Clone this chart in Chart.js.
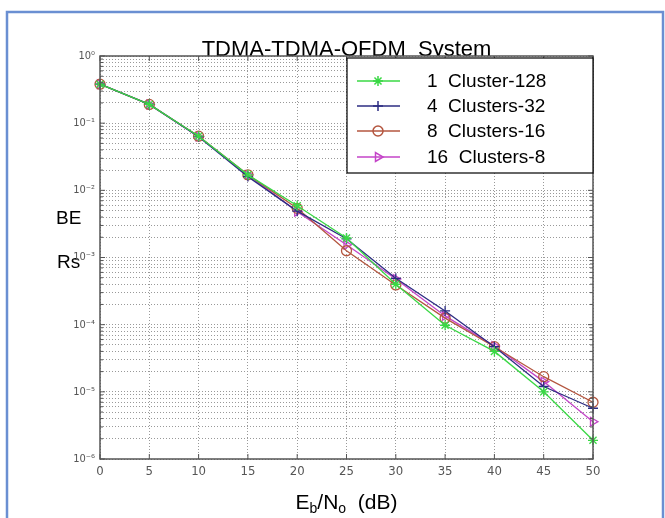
<!DOCTYPE html>
<html>
<head>
<meta charset="utf-8">
<script src="https://cdn.jsdelivr.net/npm/chart.js@4"></script>
<style>
  html, body { margin: 0; padding: 0; background: #fff; }
  canvas { display: block; }
</style>
</head>
<body>
<canvas id="myChart" width="665" height="518"></canvas>
<script>
// Eb/No in dB
const ebno = [0, 5, 10, 15, 20, 25, 30, 35, 40, 45, 50];

// bit error rate per configuration
const cluster1x128 = [0.38, 0.19, 0.064, 0.017, 0.0059, 0.00195, 0.00040, 0.000098, 0.000040, 0.0000100, 0.0000019];
const clusters4x32 = [0.38, 0.19, 0.063, 0.016, 0.0049, 0.00190, 0.00049, 0.000160, 0.000047, 0.0000120, 0.0000057];
const clusters8x16 = [0.38, 0.19, 0.064, 0.017, 0.0054, 0.00126, 0.00039, 0.000125, 0.000047, 0.0000168, 0.0000070];
const clusters16x8 = [0.38, 0.19, 0.063, 0.017, 0.0048, 0.00155, 0.00048, 0.000135, 0.000048, 0.0000142, 0.0000036];

const seriesNames = ['1  Cluster-128', '4  Clusters-32', '8  Clusters-16', '16  Clusters-8'];

const yExponents = [-6, -5, -4, -3, -2, -1, 0];
const yTickLabels = ['10⁻⁶', '10⁻⁵', '10⁻⁴', '10⁻³', '10⁻²', '10⁻¹', '10⁰'];

const titleText = 'TDMA-TDMA-OFDM  System';

const font = 'Arial, "Liberation Sans", sans-serif';
const narrow = '"Liberation Sans Narrow", "DejaVu Sans Condensed", Arial, sans-serif';

function pts(ys) {
  return ebno.map((x, i) => ({ x: x, y: ys[i] }));
}

const series = [
  { label: seriesNames[0], data: pts(cluster1x128), color: '#3ad845', style: 'star', rot: 0 },
  { label: seriesNames[1], data: pts(clusters4x32), color: '#2c2c82', style: 'cross', rot: 0 },
  { label: seriesNames[2], data: pts(clusters8x16), color: '#b4563f', style: 'circle', rot: 0 },
  { label: seriesNames[3], data: pts(clusters16x8), color: '#c444c8', style: 'triangle', rot: 90 }
];

const decorPlugin = {
  id: 'decor',
  beforeDraw(chart) {
    const c = chart.ctx, a = chart.chartArea;
    c.save();
    c.fillStyle = '#fff';
    c.fillRect(0, 0, chart.width, chart.height);
    // outer frame
    c.strokeStyle = '#6a8fd2';
    c.lineWidth = 2.5;
    c.strokeRect(7, 12, 656, 530);
    // title (bottom gets covered by the axes like in matlab)
    c.fillStyle = '#000';
    c.font = '22px ' + font;
    c.textAlign = 'center';
    c.textBaseline = 'alphabetic';
    c.fillText(titleText, (a.left + a.right) / 2, 56);
    c.fillStyle = '#fff';
    c.fillRect(a.left, a.top, a.right - a.left, a.bottom - a.top);
    // y axis label, split in two lines
    c.fillStyle = '#000';
    c.font = '19px ' + font;
    c.textAlign = 'left';
    c.fillText('BE', 56, 224);
    c.fillText('Rs', 57, 268);
    // x axis label with subscripts
    const parts = [['E', 21, 0], ['b', 14, 4], ['/N', 21, 0], ['o', 14, 4], ['  (dB)', 21, 0]];
    let w = 0;
    parts.forEach(p => { c.font = p[1] + 'px ' + font; w += c.measureText(p[0]).width; });
    let x = (a.left + a.right) / 2 - w / 2;
    parts.forEach(p => {
      c.font = p[1] + 'px ' + font;
      c.fillText(p[0], x, 509 + p[2]);
      x += c.measureText(p[0]).width;
    });
    c.restore();
  },
  afterDraw(chart) {
    const c = chart.ctx, a = chart.chartArea;
    const xs = chart.scales.x, ys = chart.scales.y;
    c.save();
    // axes box and inner tick marks
    c.strokeStyle = '#555';
    c.lineWidth = 1.5;
    c.strokeRect(a.left, a.top, a.right - a.left, a.bottom - a.top);
    c.lineWidth = 1;
    c.beginPath();
    xs.ticks.forEach(t => {
      const px = xs.getPixelForValue(t.value);
      c.moveTo(px, a.bottom); c.lineTo(px, a.bottom - 5);
      c.moveTo(px, a.top); c.lineTo(px, a.top + 5);
    });
    ys.ticks.forEach(t => {
      const py = ys.getPixelForValue(t.value);
      const len = t.label ? 5 : 3;
      c.moveTo(a.left, py); c.lineTo(a.left + len, py);
      c.moveTo(a.right, py); c.lineTo(a.right - len, py);
    });
    c.stroke();

    // legend box
    const lx = 347, ly = 58, lw = 246, lh = 115;
    c.fillStyle = '#fff';
    c.fillRect(lx, ly, lw, lh);
    c.strokeStyle = '#000';
    c.lineWidth = 1.2;
    c.strokeRect(lx, ly, lw, lh);
    const rows = [81, 106, 131, 157];
    chart.data.datasets.forEach((ds, i) => {
      const y = rows[i];
      c.strokeStyle = ds.borderColor;
      c.lineWidth = 1.5;
      c.beginPath();
      c.moveTo(357, y); c.lineTo(400, y);
      c.stroke();
      c.fillStyle = 'rgba(0,0,0,0)';
      if (Chart.helpers && Chart.helpers.drawPoint) {
        Chart.helpers.drawPoint(c, { pointStyle: ds.pointStyle, radius: 5, rotation: ds.pointRotation, borderWidth: 1.3 }, 378, y);
      }
      c.fillStyle = '#000';
      c.font = '19px ' + font;
      c.textAlign = 'left';
      c.textBaseline = 'middle';
      c.fillText(ds.label, 427, y + 1);
    });
    c.restore();
  }
};

const ctx = document.getElementById('myChart');

new Chart(ctx, {
  type: 'line',
  data: {
    datasets: series.map(s => ({
      label: s.label,
      data: s.data,
      borderColor: s.color,
      backgroundColor: s.color,
      borderWidth: 1.3,
      pointStyle: s.style,
      pointRotation: s.rot,
      pointRadius: 5,
      pointBorderWidth: 1.3,
      pointBorderColor: s.color,
      pointBackgroundColor: 'rgba(0,0,0,0)',
      tension: 0,
      clip: false
    }))
  },
  options: {
    responsive: false,
    devicePixelRatio: 1,
    animation: false,
    layout: { padding: { left: 0, top: 56, right: 72, bottom: 0 } },
    scales: {
      x: {
        type: 'linear',
        min: 0,
        max: 50,
        afterFit(scale) { scale.height = 59; },
        ticks: { stepSize: 5, padding: 5, color: '#555', font: { family: narrow, size: 13 } },
        grid: { color: '#999', lineWidth: 1, drawTicks: false },
        border: { display: false, dash: [1, 2] }
      },
      y: {
        type: 'logarithmic',
        min: 1e-6,
        max: 1,
        afterFit(scale) { scale.width = 100; },
        afterBuildTicks(scale) {
          const t = [];
          yExponents.forEach((e, i) => {
            if (i === yExponents.length - 1) { t.push({ value: Math.pow(10, e), major: true }); return; }
            for (let k = 1; k <= 9; k++) t.push({ value: k * Math.pow(10, e), major: k === 1 });
          });
          scale.ticks = t;
        },
        ticks: {
          autoSkip: false,
          padding: 5,
          color: '#555',
          font: { family: narrow, size: 11 },
          callback(value) {
            const e = Math.round(Math.log10(value));
            if (Math.abs(Math.log10(value) - e) > 1e-9) return '';
            const i = yExponents.indexOf(e);
            return i >= 0 ? yTickLabels[i] : '';
          }
        },
        grid: { color: '#999', lineWidth: 1, drawTicks: false },
        border: { display: false, dash: [1, 2] }
      }
    },
    plugins: {
      legend: { display: false },
      title: { display: false },
      tooltip: { enabled: false }
    }
  },
  plugins: [decorPlugin]
});
</script>
</body>
</html>
